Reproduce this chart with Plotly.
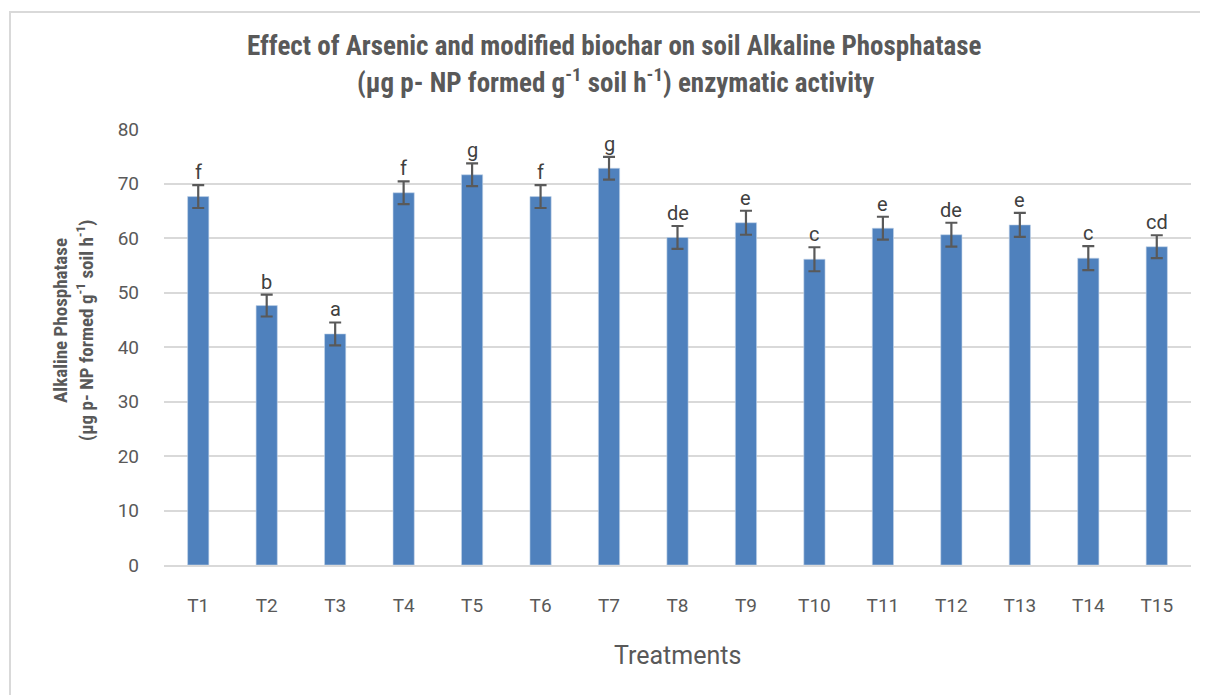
import plotly.graph_objects as go

categories = ["T1", "T2", "T3", "T4", "T5", "T6", "T7", "T8", "T9", "T10", "T11", "T12", "T13", "T14", "T15"]
values = [67.6, 47.6, 42.4, 68.3, 71.6, 67.6, 72.8, 60.1, 62.8, 56.1, 61.8, 60.6, 62.4, 56.3, 58.4]
errors = [2.1, 2.0, 2.1, 2.1, 2.1, 2.1, 2.1, 2.1, 2.2, 2.2, 2.1, 2.2, 2.2, 2.2, 2.1]
letters = ["f", "b", "a", "f", "g", "f", "g", "de", "e", "c", "e", "de", "e", "c", "cd"]
y_ticks = [0, 10, 20, 30, 40, 50, 60, 70, 80]

OFF = 8  # page body margin
W, H = 1208, 695
L, R, T, B = 164 - OFF, 1191 - OFF, 129 - OFF, 565 - OFF


def px(x):
    return (x - OFF - L) / (R - L)


def py(y):
    return (B - (y - OFF)) / (B - T)


fig = go.Figure()
fig.add_trace(go.Bar(
    x=categories, y=values,
    marker=dict(color="#4f81bd", line=dict(color="#c5d5ea", width=0.6)),
    error_y=dict(type="data", array=errors, visible=True, color="#595959", thickness=2.2, width=6),
    hoverinfo="skip",
))

annotations = []
for c, v, e, t in zip(categories, values, errors, letters):
    annotations.append(dict(x=c, y=v + e, xref="x", yref="y", text=t, showarrow=False,
                            yanchor="bottom", yshift=-1,
                            font=dict(family="Roboto", size=20, color="#404040")))

narrow = "Liberation Sans Narrow, Roboto Condensed, Roboto"
tfont = dict(family=narrow, size=27, color="#595959")
annotations.append(dict(x=px(614), y=py(46), xref="paper", yref="paper", showarrow=False,
                        text="<b>Effect of Arsenic and modified biochar on soil Alkaline Phosphatase</b>",
                        xanchor="center", yanchor="middle", font=tfont))
annotations.append(dict(x=px(615), y=py(81), xref="paper", yref="paper", showarrow=False,
                        text="<b>(µg p- NP formed g<sup>-1</sup> soil h<sup>-1</sup>) enzymatic activity</b>",
                        xanchor="center", yanchor="middle", font=tfont))
yfont = dict(family=narrow, size=19, color="#595959")
annotations.append(dict(x=px(60), y=py(321), xref="paper", yref="paper", showarrow=False,
                        text="<b>Alkaline Phosphatase</b>", textangle=-90,
                        xanchor="center", yanchor="middle", font=yfont))
annotations.append(dict(x=px(85), y=py(331), xref="paper", yref="paper", showarrow=False,
                        text="<b>(µg p- NP formed g<sup>-1</sup> soil h<sup>-1</sup>)</b>", textangle=-90,
                        xanchor="center", yanchor="middle", font=yfont))
annotations.append(dict(x=px(677), y=py(655), xref="paper", yref="paper", showarrow=False,
                        text="Treatments", xanchor="center", yanchor="middle",
                        font=dict(family="Roboto", size=25, color="#595959")))

shapes = [dict(type="rect", xref="paper", yref="paper",
               x0=px(10), x1=px(1240), y0=py(730), y1=py(12),
               line=dict(color="#d9d9d9", width=2), fillcolor="rgba(0,0,0,0)", layer="below")]

fig.update_layout(
    width=W, height=H,
    margin=dict(l=L, r=W - R, t=T, b=H - B),
    paper_bgcolor="white", plot_bgcolor="white",
    showlegend=False,
    bargap=0.69,
    annotations=annotations,
    shapes=shapes,
    xaxis=dict(showgrid=False, showline=True, linecolor="#d9d9d9", linewidth=1.5,
               ticks="", tickfont=dict(family="Roboto", size=19, color="#595959"),
               ticklabelstandoff=22),
    yaxis=dict(range=[0, 80], tickvals=y_ticks, showgrid=True, gridcolor="#d9d9d9", gridwidth=1.5,
               zeroline=False, showline=False, ticks="",
               tickfont=dict(family="Roboto", size=19, color="#595959"), ticklabelstandoff=24),
)

fig.write_html("out.html")
